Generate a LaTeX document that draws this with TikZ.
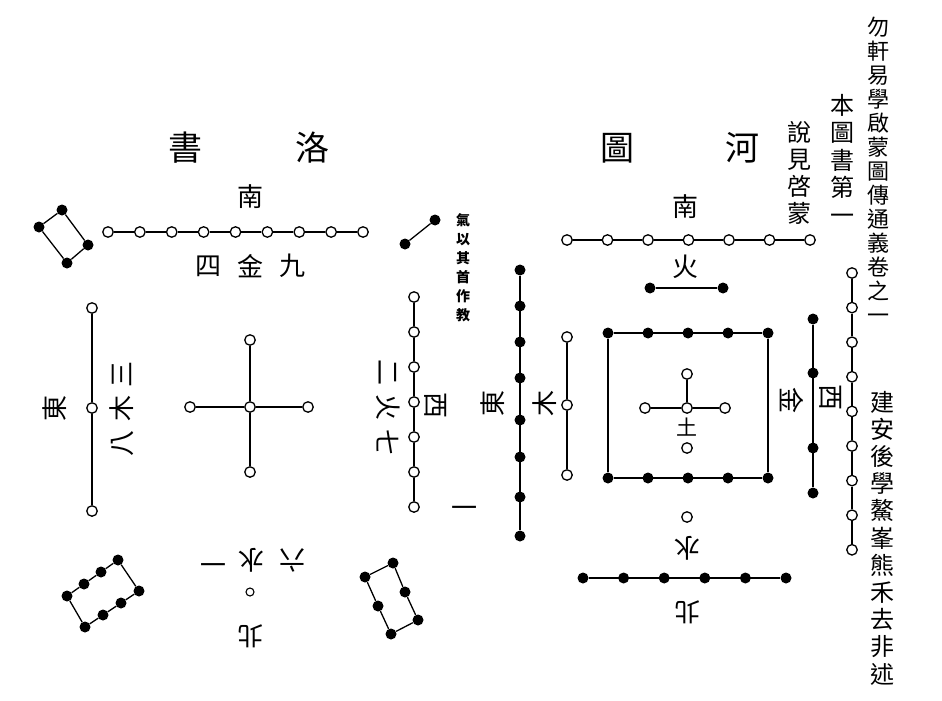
\documentclass[tikz,border=0pt]{standalone}
\usepackage{fontspec}
\newfontfamily\cjk{Noto Sans CJK TC}
\begin{document}
\begin{tikzpicture}[x=1pt,y=-1pt,
  ln/.style={line width=1.3pt},
  oc/.style={circle,draw,fill=white,inner sep=0pt,minimum size=10.5pt,line width=1.3pt},
  bd/.style={circle,fill=black,inner sep=0pt,minimum size=11pt},
  sc/.style={circle,draw,fill=white,inner sep=0pt,minimum size=8pt,line width=1.1pt},
  tt/.style={font=\cjk\fontsize{34}{34}\selectfont,inner sep=0pt},
  lb/.style={font=\cjk\fontsize{26}{26}\selectfont,inner sep=0pt},
  sm/.style={font=\cjk\fontsize{21}{21}\selectfont,inner sep=0pt},
  nt/.style={font=\cjk\fontsize{14}{14}\selectfont\bfseries,inner sep=0pt},
  col/.style={font=\cjk\fontsize{22}{24}\selectfont,inner sep=0pt,align=center},
]
\useasboundingbox[fill=white] (0,0) rectangle (942,701);

% ================= Luoshu =================
\node[tt] (ls1) at (185,148) {書};
\node[tt] (ls2) at (312,148) {洛};
\node[lb] (lsS) at (250,197) {南};
\foreach \i in {0,...,8} \node[oc] (t\i) at ({108+\i*31.875},232) {};
\foreach \i [evaluate=\i as \j using int(\i+1)] in {0,...,7} \draw[ln] (t\i) -- (t\j);
\node[lb] (l4) at (208,266) {四};
\node[lb] (l4b) at (250,266) {金};
\node[lb] (l9) at (292,266) {九};

% top-left four
\node[bd] (q1) at (62,210) {};
\node[bd] (q2) at (39,227) {};
\node[bd] (q3) at (67,263) {};
\node[bd] (q4) at (88,245) {};
\draw[ln] (q1) -- (q2) -- (q3) -- (q4) -- (q1);

% top-right two
\node[bd] (p1) at (405,244) {};
\node[bd] (p2) at (435,220) {};
\draw[ln] (p1) -- (p2);

% east three
\node[oc] (e1) at (92,308) {};
\node[oc] (e2) at (92,408) {};
\node[oc] (e3) at (92,511) {};
\draw[ln] (e1) -- (e2) -- (e3);
\node[lb,rotate=90] (eE) at (55,408) {東};
\node[lb,rotate=90] (e3t) at (122,374) {三};
\node[lb,rotate=90] (e3m) at (122,408) {木};
\node[lb,rotate=90] (e3b) at (122,443) {八};

% center five
\node[oc] (c0) at (250,407) {};
\node[oc] (cN) at (250,340) {};
\node[oc] (cS) at (250,472) {};
\node[oc] (cW) at (190,407) {};
\node[oc] (cE) at (308,407) {};
\draw[ln] (cN) -- (c0) -- (cS);
\draw[ln] (cW) -- (c0) -- (cE);

% west seven
\foreach \i in {0,...,6} \node[oc] (w\i) at (414,{297+\i*35}) {};
\foreach \i [evaluate=\i as \j using int(\i+1)] in {0,...,5} \draw[ln] (w\i) -- (w\j);
\node[lb,rotate=-90] (w2t) at (388,372) {二};
\node[lb,rotate=-90] (w2m) at (388,407) {火};
\node[lb,rotate=-90] (w2b) at (388,442) {七};
\node[lb,rotate=-90] (wW) at (436,405) {西};

% bottom-left eight
\node[bd] (a1) at (67,596) {};
\node[bd] (a2) at (84,584) {};
\node[bd] (a3) at (101,572) {};
\node[bd] (a4) at (118,560) {};
\node[bd] (b1) at (85,627) {};
\node[bd] (b2) at (103,615) {};
\node[bd] (b3) at (121,603) {};
\node[bd] (b4) at (139,591) {};
\draw[ln] (a1) -- (a2) -- (a3) -- (a4) -- (b4) -- (b3) -- (b2) -- (b1) -- (a1);

% bottom-right six
\node[bd] (r1) at (365,577) {};
\node[bd] (r2) at (378,606) {};
\node[bd] (r3) at (391,634) {};
\node[bd] (s1) at (393,563) {};
\node[bd] (s2) at (405,592) {};
\node[bd] (s3) at (418,620) {};
\draw[ln] (r1) -- (r2) -- (r3) -- (s3) -- (s2) -- (s1) -- (r1);

% north one
\node[lb,rotate=180] (n1) at (213,560) {一};
\node[lb,rotate=180] (n2) at (251,560) {水};
\node[lb,rotate=180] (n3) at (292,560) {六};
\node[sc] (n0) at (250,592) {};
\node[lb,rotate=180] (nN) at (250,636) {北};

% middle note
\node[nt,align=center,font=\cjk\fontsize{14}{19}\selectfont\bfseries] (note) at (463,268) {氣\\以\\其\\首\\作\\教};
\node[lb] (noteb) at (464,512) {一};

% ================= Hetu =================
\node[tt] (ht1) at (617,148) {圖};
\node[tt] (ht2) at (742,148) {河};
\node[lb] (htS) at (685,207) {南};
\foreach \i in {0,...,6} \node[oc] (h\i) at ({567+\i*40.5},240) {};
\foreach \i [evaluate=\i as \j using int(\i+1)] in {0,...,5} \draw[ln] (h\i) -- (h\j);
\node[lb] (hF) at (685,267) {火};
\node[bd] (hf1) at (650,288) {};
\node[bd] (hf2) at (723,288) {};
\draw[ln] (hf1) -- (hf2);

% east eight
\foreach \y [count=\k] in {270,306,342,378,420,457,497,536} \node[bd] (he\k) at (520,\y) {};
\draw[ln] (he1) -- (he8);
\node[lb,rotate=90] (heE) at (493,403) {東};
\node[lb,rotate=90] (heW) at (545,403) {木};
\node[oc] (hm1) at (567,337) {};
\node[oc] (hm2) at (567,405) {};
\node[oc] (hm3) at (567,475) {};
\draw[ln] (hm1) -- (hm2) -- (hm3);

% square ten
\foreach \i in {0,...,4} {
  \node[bd] (sq\i) at ({608+\i*40},333) {};
  \node[bd] (sb\i) at ({608+\i*40},478) {};
}
\draw[ln] (sq0) -- (sq4) -- (sb4) -- (sb0) -- (sq0);

% center five
\node[oc] (hc0) at (687,408) {};
\node[oc] (hcN) at (687,374) {};
\node[oc] (hcW) at (645,408) {};
\node[oc] (hcE) at (725,408) {};
\draw[ln] (hcN) -- (hc0);
\draw[ln] (hcW) -- (hc0) -- (hcE);
\node[sm] (hT) at (687,427) {土};
\node[oc] (hcS) at (687,448) {};

% north
\node[oc] (hn0) at (687,517) {};
\node[lb,rotate=180] (hW) at (687,548) {水};
\foreach \i in {0,...,5} \node[bd] (hb\i) at ({583+\i*40.6},578) {};
\draw[ln] (hb0) -- (hb5);
\node[lb,rotate=180] (hN) at (687,612) {北};

% west
\node[lb,rotate=-90] (hJ) at (792,400) {金};
\foreach \y [count=\k] in {319,373,448,493} \node[bd] (hw\k) at (813,\y) {};
\draw[ln] (hw1) -- (hw4);
\node[lb,rotate=-90] (hX) at (831,397) {西};
\foreach \i in {0,...,8} \node[oc] (hr\i) at (852,{273+\i*34.6}) {};
\foreach \i [evaluate=\i as \j using int(\i+1)] in {0,...,7} \draw[ln] (hr\i) -- (hr\j);

% ================= text columns =================
\node[col] (c1) at (878,170) {勿\\軒\\易\\學\\啟\\蒙\\圖\\傳\\通\\義\\卷\\之\\一};
\node[col,font=\cjk\fontsize{24}{27.5}\selectfont] (c2) at (842,159) {本\\圖\\書\\第\\一};
\node[col,font=\cjk\fontsize{24}{27}\selectfont] (c3) at (799,173) {說\\見\\啓\\蒙};
\node[col,font=\cjk\fontsize{24}{27.2}\selectfont] (c4) at (882,538) {建\\安\\後\\學\\鰲\\峯\\熊\\禾\\去\\非\\述};
\end{tikzpicture}
\end{document}
